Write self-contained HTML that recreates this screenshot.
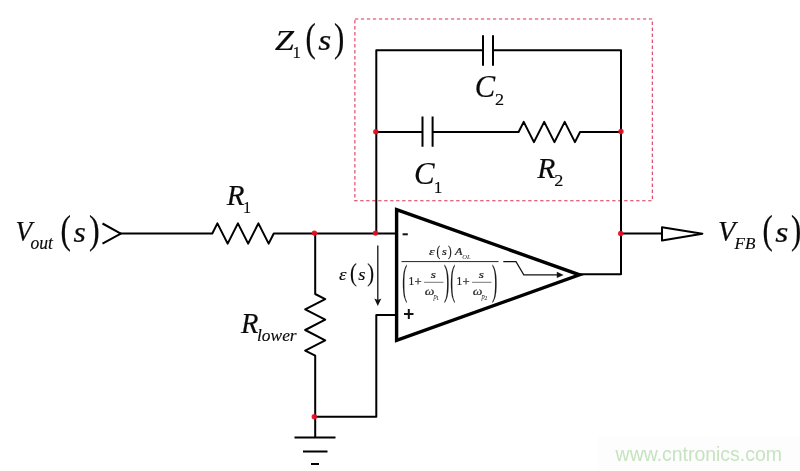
<!DOCTYPE html>
<html>
<head>
<meta charset="utf-8">
<title>Type 2 compensator</title>
<style>
html,body{margin:0;padding:0;background:#fff;}
body{width:800px;height:471px;overflow:hidden;}
svg{display:block;will-change:transform;}
text{font-family:"Liberation Serif","DejaVu Serif",serif;fill:#0a0a0a;stroke:#0a0a0a;stroke-width:0.22;}
.i{font-style:italic;}
.w{fill:none;stroke:#000;stroke-width:2;stroke-linejoin:round;stroke-linecap:butt;}
.t{fill:none;stroke:#111;stroke-width:1;}
.dot{fill:#ea0e22;fill-opacity:0.94;}
.sans{font-family:"Liberation Sans",sans-serif;}
</style>
</head>
<body>
<svg width="800" height="471" viewBox="0 0 800 471">
<rect width="800" height="471" fill="#fff"/>

<!-- dashed impedance box -->
<rect x="354.9" y="19" width="297.4" height="181.8" fill="none" stroke="#d8335a" stroke-width="1.05" stroke-dasharray="3.3 2.7"/>

<!-- wires -->
<g class="w">
  <path d="M102.5 223.5 L120.8 233.6 L102.5 243.7"/>
  <path d="M120 233.5 H212.3 l5.1 -10.1 l10.25 20.2 l10.25 -20.2 l10.25 20.2 l10.25 -20.2 l10.25 20.2 l5.1 -10.1 H396"/>
  <path d="M315.2 233.5 V294 l10 5.1 l-20 10.3 l20 10.3 l-20 10.3 l20 10.3 l-20 10.3 l10 5.1 V437.5"/>
  <path d="M294.5 437.5 H335.5 M303 451.5 H327.5 M311 464 H319"/>
  <path d="M315.2 416.8 H376.3 V315 H396" stroke-linejoin="round"/>
  <path d="M376.3 233.5 V50.3 H483 M493 50.3 H621 V274.3 H580" stroke-linejoin="round"/>
  <path d="M483 35.3 V65.7 M493 35.3 V65.7"/>
  <path d="M376.3 132 H422.5 M432.6 132 H518.6 l5.1 -10.1 l10.25 20.2 l10.25 -20.2 l10.25 20.2 l10.25 -20.2 l10.25 20.2 l5.1 -10.1 H621"/>
  <path d="M422.5 116.5 V146.7 M432.6 116.5 V146.7"/>
  <path d="M621 233.5 H662"/>
  <path d="M662 227.3 L702.4 233.7 L662 240.6 Z" fill="#fff" stroke-linejoin="round"/>
</g>

<!-- opamp -->
<path d="M396.6 209.7 L579.5 274.8 L396.6 340.4 Z" fill="#fff" stroke="#000" stroke-width="3.4" stroke-linejoin="miter"/>

<!-- thin arrows -->
<path class="t" d="M377.8 245.5 V300" style="stroke-width:1.3"/>
<path d="M374.3 298.6 L377.8 300 L381.3 298.6 L377.8 306 Z" fill="#111"/>
<path class="t" d="M503.3 261.7 H516 L523.8 274.9 H558" style="stroke-width:1.2"/>
<path d="M556.8 271.7 L563.6 274.9 L556.8 278.1 Z" fill="#111"/>

<!-- nodes -->
<circle class="dot" cx="314.4" cy="233.1" r="2.7"/>
<circle class="dot" cx="375.5" cy="233.1" r="2.7"/>
<circle class="dot" cx="375.8" cy="131.7" r="2.7"/>
<circle class="dot" cx="621" cy="131.5" r="2.7"/>
<circle class="dot" cx="620.7" cy="233.5" r="2.7"/>
<circle class="dot" cx="314.3" cy="416.7" r="2.7"/>

<!-- opamp signs -->
<path d="M402.6 234.3 H407.8" stroke="#111" stroke-width="2" fill="none"/>
<path d="M404 314 H413.5 M408.8 309 V319.1" stroke="#111" stroke-width="2" fill="none"/>

<!-- transfer function bars -->
<path class="t" d="M401.5 261.6 H498.5" style="stroke:#222"/>
<path class="t" d="M424.1 282.3 H443.5" style="stroke:#777"/>
<path class="t" d="M472.1 282.3 H491.5" style="stroke:#777"/>

<!-- labels -->
<text id="vo_V" class="i" font-size="31" transform="translate(15.45 241.01) scale(0.878 0.974)">V</text>
<text id="vo_sub" class="i" style="stroke-width:0.15" font-size="17" transform="translate(30.48 249.47) scale(1.035 1.105)">out</text>
<text id="vo_lp" font-size="38" transform="translate(60.51 242.74) scale(0.825 1.062)">(</text>
<text id="vo_s" class="i" font-size="31" transform="translate(73.49 241.77) scale(1.023 0.971)">s</text>
<text id="vo_rp" font-size="38" transform="translate(88.92 242.74) scale(0.846 1.062)">)</text>
<text id="r1_R" class="i" font-size="31" transform="translate(226.73 204.50) scale(0.936 0.978)">R</text>
<text id="r1_1" style="stroke-width:0.15" font-size="17" transform="translate(243.06 212.51) scale(0.951 0.951)">1</text>
<text id="rl_R" class="i" font-size="31" transform="translate(240.97 332.51) scale(0.921 0.976)">R</text>
<text id="rl_sub" class="i" style="stroke-width:0.15" font-size="17" transform="translate(256.98 340.51) scale(1.025 0.963)">lower</text>
<text id="z_Z" class="i" font-size="31" transform="translate(274.71 49.51) scale(1.113 0.957)">Z</text>
<text id="z_1" style="stroke-width:0.15" font-size="17" transform="translate(292.53 57.50) scale(0.978 0.978)">1</text>
<text id="z_lp" font-size="38" transform="translate(305.53 51.25) scale(0.810 1.060)">(</text>
<text id="z_s" class="i" font-size="31" transform="translate(318.22 49.77) scale(1.075 0.957)">s</text>
<text id="z_rp" font-size="38" transform="translate(333.95 51.19) scale(0.815 1.068)">)</text>
<text id="c2_C" class="i" font-size="31" transform="translate(474.77 97.00) scale(0.985 1.009)">C</text>
<text id="c2_2" style="stroke-width:0.15" font-size="17" transform="translate(494.95 105.00) scale(1.071 1.027)">2</text>
<text id="c1_C" class="i" font-size="31" transform="translate(414.01 184.49) scale(0.992 1.017)">C</text>
<text id="c1_1" style="stroke-width:0.15" font-size="17" transform="translate(433.72 192.51) scale(1.014 1.014)">1</text>
<text id="r2_R" class="i" font-size="31" transform="translate(537.23 177.50) scale(0.955 0.978)">R</text>
<text id="r2_2" style="stroke-width:0.15" font-size="17" transform="translate(554.20 185.50) scale(1.071 1.027)">2</text>
<text id="vf_V" class="i" font-size="31" transform="translate(717.88 241.02) scale(0.917 0.964)">V</text>
<text id="vf_sub" class="i" style="stroke-width:0.15" font-size="17" transform="translate(734.50 249.26) scale(1.008 0.974)">FB</text>
<text id="vf_lp" font-size="38" transform="translate(762.53 243.25) scale(0.810 1.060)">(</text>
<text id="vf_s" class="i" font-size="31" transform="translate(775.21 241.52) scale(1.089 0.951)">s</text>
<text id="vf_rp" font-size="38" transform="translate(790.96 243.25) scale(0.810 1.060)">)</text>
<text id="e_e" class="i" style="stroke-width:0.15" font-size="18" transform="translate(338.98 280.01) scale(1.054 0.961)">ε</text>
<text id="e_lp" style="stroke-width:0.15" font-size="22" transform="translate(350.06 281.16) scale(0.931 1.125)">(</text>
<text id="e_s" class="i" style="stroke-width:0.15" font-size="18" transform="translate(358.24 280.01) scale(1.034 0.961)">s</text>
<text id="e_rp" style="stroke-width:0.15" font-size="22" transform="translate(367.29 281.16) scale(0.931 1.125)">)</text>
<text id="n_e" class="i" style="fill:#1c1c1c;stroke:#1c1c1c;stroke-width:0.22" font-size="12" transform="translate(428.96 255.28) scale(1.193 0.868)">ε</text>
<text id="n_lp" style="fill:#1c1c1c;stroke:#1c1c1c;stroke-width:0.22" font-size="14" transform="translate(436.57 255.92) scale(0.789 1.028)">(</text>
<text id="n_s" class="i" style="fill:#1c1c1c;stroke:#1c1c1c;stroke-width:0.22" font-size="12" transform="translate(442.00 255.28) scale(1.025 0.868)">s</text>
<text id="n_rp" style="fill:#1c1c1c;stroke:#1c1c1c;stroke-width:0.22" font-size="14" transform="translate(448.09 255.92) scale(0.777 1.028)">)</text>
<text id="n_A" class="i" style="fill:#1c1c1c;stroke:#1c1c1c;stroke-width:0.22" font-size="12" transform="translate(455.00 255.28) scale(1.012 0.891)">A</text>
<text id="n_OL" class="i" style="fill:#1c1c1c;stroke:#1c1c1c;stroke-width:0" font-size="7" transform="translate(462.27 258.50) scale(0.929 0.980)">OL</text>
<text id="da_lp" style="fill:#1c1c1c;stroke:#1c1c1c;stroke-width:0.22" font-size="40" transform="translate(402.31 293.73) scale(0.372 1.032)">(</text>
<text id="da_1" style="fill:#1c1c1c;stroke:#1c1c1c;stroke-width:0.22" font-size="12" transform="translate(408.54 285.02) scale(0.952 0.952)">1</text>
<text id="da_p" style="fill:#1c1c1c;stroke:#1c1c1c;stroke-width:0.22" font-size="12" transform="translate(414.47 286.25) scale(1.053 1.000)">+</text>
<text id="da_s" class="i" style="fill:#1c1c1c;stroke:#1c1c1c;stroke-width:0.22" font-size="12" transform="translate(430.75 278.03) scale(1.104 0.859)">s</text>
<text id="da_w" class="i" style="fill:#1c1c1c;stroke:#1c1c1c;stroke-width:0.22" font-size="12" transform="translate(424.70 294.76) scale(1.136 0.917)">ω</text>
<text id="da_P" class="i" style="fill:#1c1c1c;stroke:#1c1c1c;stroke-width:0" font-size="7" transform="translate(433.47 298.92) scale(0.917 1.053)">p</text>
<text id="da_n" style="fill:#1c1c1c;stroke:#1c1c1c;stroke-width:0" font-size="5" transform="translate(436.07 299.97) scale(1.279 1.279)">1</text>
<text id="da_rp" style="fill:#1c1c1c;stroke:#1c1c1c;stroke-width:0.22" font-size="40" transform="translate(443.91 293.92) scale(0.396 1.039)">)</text>
<text id="db_lp" style="fill:#1c1c1c;stroke:#1c1c1c;stroke-width:0.22" font-size="40" transform="translate(450.31 293.73) scale(0.372 1.032)">(</text>
<text id="db_1" style="fill:#1c1c1c;stroke:#1c1c1c;stroke-width:0.22" font-size="12" transform="translate(456.54 285.02) scale(0.952 0.952)">1</text>
<text id="db_p" style="fill:#1c1c1c;stroke:#1c1c1c;stroke-width:0.22" font-size="12" transform="translate(462.47 286.25) scale(1.053 1.000)">+</text>
<text id="db_s" class="i" style="fill:#1c1c1c;stroke:#1c1c1c;stroke-width:0.22" font-size="12" transform="translate(478.75 278.03) scale(1.104 0.859)">s</text>
<text id="db_w" class="i" style="fill:#1c1c1c;stroke:#1c1c1c;stroke-width:0.22" font-size="12" transform="translate(472.70 294.76) scale(1.136 0.917)">ω</text>
<text id="db_P" class="i" style="fill:#1c1c1c;stroke:#1c1c1c;stroke-width:0" font-size="7" transform="translate(481.47 298.92) scale(0.917 1.053)">p</text>
<text id="db_n" style="fill:#1c1c1c;stroke:#1c1c1c;stroke-width:0" font-size="5" transform="translate(484.21 299.97) scale(1.279 1.279)">2</text>
<text id="db_rp" style="fill:#1c1c1c;stroke:#1c1c1c;stroke-width:0.22" font-size="40" transform="translate(491.91 293.92) scale(0.396 1.039)">)</text>

<!-- watermark -->
<rect x="598" y="436" width="202" height="35" fill="#fdfdfd"/>
<text class="sans" x="615.6" y="461.3" font-size="19.45" style="fill:#c6e3c0;stroke:none">www.cntronics.com</text>
</svg>
</body>
</html>
